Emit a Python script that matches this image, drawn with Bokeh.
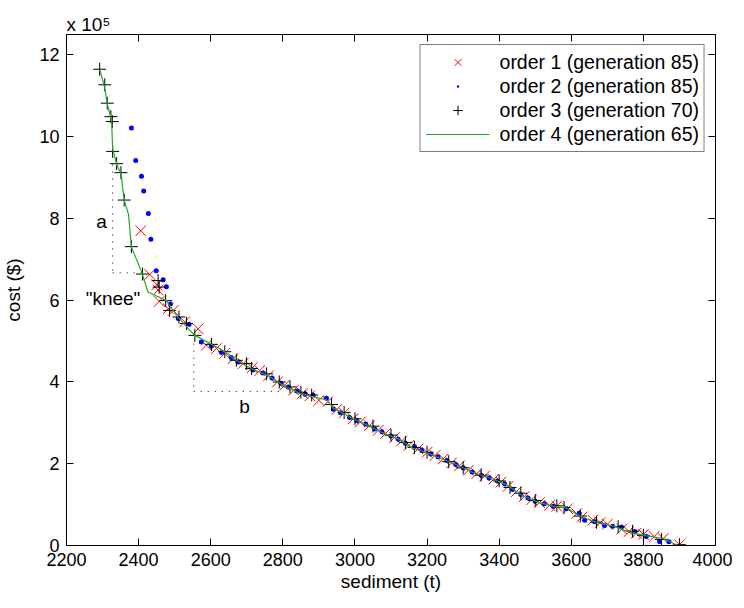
from bokeh.plotting import figure
from bokeh.models import (Range1d, LinearAxis, FixedTicker, Label, Legend,
                          LegendItem, CustomJSTickFormatter, Title)
from bokeh.embed import file_html
from bokeh.resources import INLINE

FONT = "Liberation Sans"

# ---- data: sediment (t) and cost (in units of 1e5 $) ----
order1_sed = [2406, 2431, 2451, 2454, 2457, 2482, 2496, 2528, 2565, 2588,
              2616, 2639, 2662, 2690, 2715, 2736, 2760, 2785, 2805, 2830,
              2855, 2875, 2900, 2925, 2950, 2970, 2995, 3015, 3040, 3065,
              3085, 3110, 3130, 3150, 3175, 3200, 3222, 3245, 3268, 3290,
              3315, 3338, 3360, 3385, 3405, 3425, 3448, 3470, 3490, 3512,
              3540, 3560, 3590, 3615, 3630, 3660, 3680, 3700, 3740, 3760,
              3780, 3800, 3830, 3855, 3900]
order1_cost = [7.70, 6.63, 6.38, 6.25, 5.97, 5.79, 5.75, 5.47, 5.30, 4.90,
               4.82, 4.70, 4.57, 4.45, 4.35, 4.28, 4.15, 4.00, 3.92, 3.80,
               3.72, 3.66, 3.55, 3.52, 3.33, 3.24, 3.10, 3.02, 2.93, 2.82,
               2.74, 2.64, 2.56, 2.45, 2.36, 2.28, 2.20, 2.12, 2.02, 1.95,
               1.84, 1.76, 1.70, 1.62, 1.55, 1.45, 1.32, 1.20, 1.12, 1.05,
               0.98, 0.96, 0.90, 0.78, 0.70, 0.62, 0.56, 0.52, 0.40, 0.34,
               0.30, 0.27, 0.22, 0.17, 0.02]

order2_sed = [2380, 2392, 2408, 2414, 2427, 2434, 2449, 2468, 2477, 2488,
              2510, 2540, 2574, 2602, 2630, 2657, 2676, 2717, 2745, 2770,
              2795, 2815, 2840, 2862, 2884, 2921, 2940, 2960, 2985, 3005,
              3030, 3055, 3075, 3100, 3120, 3140, 3165, 3185, 3210, 3230,
              3255, 3280, 3300, 3325, 3350, 3372, 3395, 3415, 3437, 3460,
              3480, 3500, 3525, 3550, 3587, 3622, 3637, 3665, 3692, 3715,
              3739, 3776, 3808, 3845, 3871]
order2_cost = [10.21, 9.42, 9.03, 8.67, 8.12, 7.49, 6.72, 6.50, 6.33, 5.91,
               5.55, 5.41, 4.98, 4.88, 4.72, 4.60, 4.49, 4.29, 4.22, 4.10,
               3.97, 3.88, 3.78, 3.70, 3.68, 3.60, 3.33, 3.25, 3.13, 3.05,
               2.97, 2.85, 2.78, 2.68, 2.60, 2.50, 2.42, 2.33, 2.24, 2.17,
               2.08, 1.98, 1.90, 1.80, 1.72, 1.65, 1.58, 1.51, 1.37, 1.25,
               1.16, 1.08, 1.02, 0.96, 0.90, 0.79, 0.62, 0.58, 0.49, 0.47,
               0.45, 0.34, 0.22, 0.10, 0.09]

order3_sed = [2292, 2306, 2313, 2323, 2327, 2328, 2339, 2351, 2360, 2380,
              2411, 2454, 2457, 2475, 2486, 2512, 2533, 2556, 2602, 2639,
              2671, 2699, 2713, 2755, 2790, 2820, 2850, 2880, 2935, 2970,
              3000, 3050, 3100, 3140, 3165, 3200, 3260, 3300, 3350, 3400,
              3430, 3460, 3500, 3560, 3580, 3625, 3670, 3730, 3770, 3800,
              3850, 3900]
order3_cost = [11.65, 11.27, 10.82, 10.49, 10.37, 9.64, 9.34, 9.12, 8.45, 7.31,
               6.64, 6.48, 6.32, 5.99, 5.75, 5.59, 5.43, 5.14, 4.92, 4.74,
               4.53, 4.45, 4.33, 4.20, 4.00, 3.88, 3.75, 3.68, 3.45, 3.25,
               3.10, 2.92, 2.70, 2.52, 2.40, 2.28, 2.05, 1.90, 1.72, 1.58,
               1.42, 1.28, 1.10, 0.97, 0.93, 0.72, 0.57, 0.46, 0.35, 0.25,
               0.15, 0.02]

order4_sed = [2292, 2306, 2313, 2325, 2328, 2340, 2351, 2360, 2372, 2380,
              2408, 2426, 2477, 2505, 2542, 2556, 2607, 2625, 2671, 2713,
              2764, 2801, 2847, 2884, 2921, 2940, 2976, 3023, 3069, 3124,
              3161, 3189, 3235, 3281, 3328, 3374, 3420, 3466, 3512, 3554,
              3587, 3624, 3670, 3716, 3762, 3808, 3855, 3896]
order4_cost = [11.65, 11.2, 10.8, 10.4, 9.7, 9.3, 9.1, 8.45, 8.1, 7.3,
               6.7, 6.2, 5.99, 5.63, 5.26, 5.14, 4.90, 4.82, 4.53, 4.33,
               4.13, 3.92, 3.72, 3.64, 3.56, 3.36, 3.19, 2.99, 2.79, 2.59,
               2.38, 2.30, 2.14, 1.98, 1.78, 1.65, 1.49, 1.21, 1.05, 0.95,
               0.92, 0.72, 0.56, 0.48, 0.32, 0.24, 0.17, 0.0]

series_labels = ["order 1 (generation 85)", "order 2 (generation 85)",
                 "order 3 (generation 70)", "order 4 (generation 65)"]

x_ticks = [2200, 2400, 2600, 2800, 3000, 3200, 3400, 3600, 3800, 4000]
y_ticks = [0, 2, 4, 6, 8, 10, 12]

# annotation guide lines ("a" and "b") and labels
a_vert_x, a_vert_y = [2328, 2328], [9.32, 6.67]
a_horz_x, a_horz_y = [2328, 2408], [6.67, 6.67]
b_vert_x, b_vert_y = [2553, 2553], [4.94, 3.77]
b_horz_x, b_horz_y = [2553, 2791], [3.77, 3.77]

title = Title(text="x 10\u2075", text_font=FONT, text_font_size="19px",
              text_font_style="normal", text_color="black", align="left",
              offset=0, standoff=0)

p = figure(output_backend="svg", toolbar_location=None, title=title,
           x_range=Range1d(2200, 4000), y_range=Range1d(0, 12.5),
           frame_width=649, frame_height=511,
           min_border_left=62, min_border_top=34, min_border_right=17,
           min_border_bottom=30)
p.xgrid.visible = False
p.ygrid.visible = False
p.outline_line_color = "black"
p.outline_line_width = 1
p.background_fill_color = "white"
p.border_fill_color = "white"

# axes
p.xaxis.ticker = FixedTicker(ticks=x_ticks)
p.yaxis.ticker = FixedTicker(ticks=y_ticks)
for ax in (p.xaxis[0], p.yaxis[0]):
    ax.major_tick_in = 7
    ax.major_tick_out = 0
    ax.minor_tick_line_color = None
    ax.axis_line_color = "black"
    ax.major_tick_line_color = "black"
    ax.major_label_text_font = FONT
    ax.major_label_text_font_size = "18px"
    ax.major_label_text_color = "black"
    ax.axis_label_text_font = FONT
    ax.axis_label_text_font_size = "19px"
    ax.axis_label_text_font_style = "normal"
    ax.axis_label_text_color = "black"
p.xaxis.axis_label = "sediment (t)"
p.yaxis.axis_label = "cost ($)"
p.xaxis.major_label_standoff = 7
p.xaxis.axis_label_standoff = 2
p.yaxis.major_label_standoff = 7
p.yaxis.axis_label_standoff = 12

blank = CustomJSTickFormatter(code="return ''")
top_ax = LinearAxis(ticker=FixedTicker(ticks=x_ticks), formatter=blank,
                    major_tick_in=7, major_tick_out=0, minor_tick_line_color=None,
                    major_label_standoff=0, major_label_text_font_size="1px")
right_ax = LinearAxis(ticker=FixedTicker(ticks=y_ticks), formatter=blank,
                      major_tick_in=7, major_tick_out=0, minor_tick_line_color=None,
                      major_label_standoff=0, major_label_text_font_size="1px")
p.add_layout(top_ax, "above")
p.add_layout(right_ax, "right")

# dotted guides
for xs, ys in ((a_vert_x, a_vert_y), (a_horz_x, a_horz_y),
               (b_vert_x, b_vert_y), (b_horz_x, b_horz_y)):
    p.line(xs, ys, line_color="black", line_width=1, line_dash="1 6")

# series
r1 = p.scatter(order1_sed, order1_cost, marker="x", size=15,
               line_color="#ff0000", line_width=1)
r2 = p.scatter(order2_sed, order2_cost, marker="dot", size=20,
               fill_color="#0000ff", line_color="#0000ff")
r3 = p.scatter(order3_sed, order3_cost, marker="cross", size=13,
               line_color="black", line_width=1)
r4 = p.line(order4_sed, order4_cost, line_color="#22a822", line_width=1.2)

legend = Legend(items=[LegendItem(label=series_labels[0], renderers=[r1]),
                       LegendItem(label=series_labels[1], renderers=[r2]),
                       LegendItem(label=series_labels[2], renderers=[r3]),
                       LegendItem(label=series_labels[3], renderers=[r4])],
                location="top_right", margin=10, padding=5, spacing=0,
                glyph_width=64, glyph_height=24, label_height=24,
                label_standoff=10, label_text_font=FONT,
                label_text_font_size="19.5px", label_text_color="black",
                border_line_color="black", border_line_width=1,
                background_fill_color="white", background_fill_alpha=1)
p.add_layout(legend)

# text annotations
for txt, xv, yv in (("a", 2297, 7.93), ("\"knee\"", 2329, 6.03), ("b", 2694, 3.41)):
    p.add_layout(Label(x=xv, y=yv, text=txt, text_font=FONT,
                       text_font_size="19px", text_align="center",
                       text_baseline="middle", text_color="black"))

open("out.html", "w").write(file_html(p, INLINE))
